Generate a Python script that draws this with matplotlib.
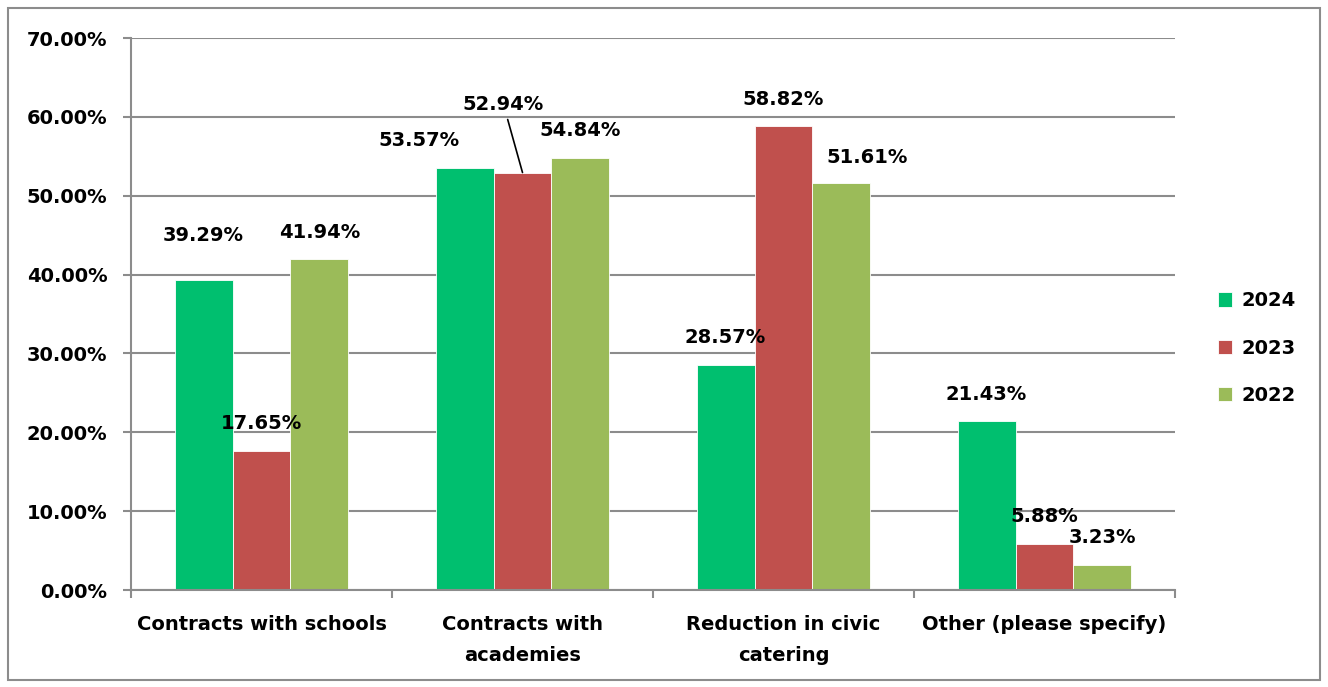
import matplotlib
matplotlib.use("Agg")
import matplotlib.pyplot as plt
import numpy as np
from matplotlib.patches import Rectangle
from matplotlib.ticker import FuncFormatter

categories = ["Contracts with schools", "Contracts with\nacademies",
              "Reduction in civic\ncatering", "Other (please specify)"]
years = ["2024", "2023", "2022"]
v2024 = [39.29, 53.57, 28.57, 21.43]
v2023 = [17.65, 52.94, 58.82, 5.88]
v2022 = [41.94, 54.84, 51.61, 3.23]
colors = ["#00BF6F", "#C0504D", "#9BBB59"]

# label offsets in pixels, keyed (series, category); Excel had a few dragged by hand
label_offsets = {
    (0, 0): (0, 45), (0, 1): (-46, 27), (2, 2): (26, 26),
}

GRID = "#8c8c8c"
FS = 14
plt.rcParams["font.family"] = "DejaVu Sans"
plt.rcParams["font.weight"] = "bold"

fig = plt.figure(figsize=(13.28, 6.87), dpi=100)
ax = fig.add_axes([131 / 1328, 1 - 590 / 687, (1175 - 131) / 1328, (590 - 38) / 687])

x = np.arange(len(categories))
w = 0.222
series = [v2024, v2023, v2022]
for j, (vals, col, lab) in enumerate(zip(series, colors, years)):
    xs = x + (j - 1) * w
    ax.bar(xs, vals, width=w, color=col, edgecolor="white", linewidth=0.6,
           label=lab, zorder=2)
    for i, v in enumerate(vals):
        if (j, i) == (1, 1):
            ax.annotate(f"{v:.2f}%", xy=(xs[i], v), xytext=(-19, 68),
                        textcoords="offset pixels", ha="center", va="center",
                        fontsize=FS, fontweight="bold",
                        arrowprops=dict(arrowstyle="-", color="black", lw=1.2,
                                        shrinkA=2, shrinkB=0))
            continue
        dx, dy = label_offsets.get((j, i), (0, 27))
        ax.annotate(f"{v:.2f}%", xy=(xs[i], v), xytext=(dx, dy),
                    textcoords="offset pixels", ha="center", va="center",
                    fontsize=FS, fontweight="bold")

ax.set_ylim(0, 70)
ax.set_xlim(-0.5, 3.5)
ax.set_yticks(np.arange(0, 71, 10))
ax.yaxis.set_major_formatter(FuncFormatter(lambda v, p: f"{v:.2f}%"))
ax.set_xticks(np.arange(-0.5, 3.6, 1))
ax.set_xticklabels([])
ax.set_xticks(x, minor=True)
ax.set_xticklabels(categories, minor=True, fontsize=FS, fontweight="bold",
                   linespacing=1.8)
ax.tick_params(axis="x", which="minor", length=0, pad=18)
ax.tick_params(axis="x", which="major", length=6, width=1.5, color=GRID)
ax.tick_params(axis="y", length=6, width=1.5, color=GRID, labelsize=FS, pad=11)
for lbl in ax.get_yticklabels():
    lbl.set_fontweight("bold")

ax.grid(axis="y", color=GRID, lw=1.5, zorder=0)
ax.set_axisbelow(True)
for s in ["top", "right"]:
    ax.spines[s].set_visible(False)
for s in ["left", "bottom"]:
    ax.spines[s].set_color(GRID)
    ax.spines[s].set_linewidth(1.5)

fig.legend(loc="center left", bbox_to_anchor=(1200 / 1328, 1 - 348 / 687),
           frameon=False, handlelength=0.75, handleheight=0.75,
           handletextpad=0.5, labelspacing=1.45, prop={"weight": "bold", "size": FS})

fig.patches.append(Rectangle((8 / 1328, 7 / 687), 1312 / 1328, 672 / 687,
                             transform=fig.transFigure, fill=False,
                             edgecolor=GRID, lw=1.5))

fig.savefig("out.png", dpi=100)
